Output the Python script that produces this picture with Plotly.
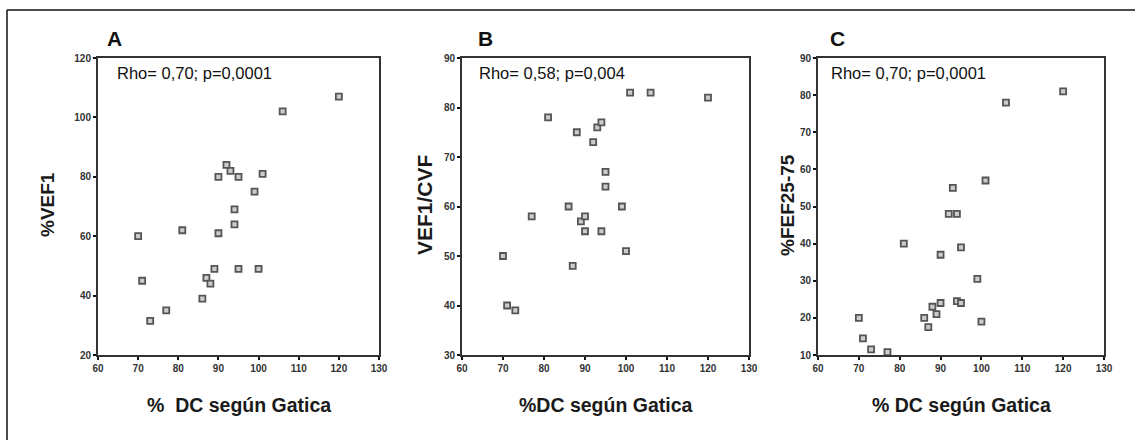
import plotly.graph_objects as go

W, H = 1135, 440

# ---- data ----
panel_labels = ["A", "B", "C"]
x_title_texts = ["%  DC según Gatica", "%DC según Gatica", "% DC según Gatica"]
y_title_texts = ["%VEF1", "VEF1/CVF", "%FEF25-75"]
rho_texts = ["Rho= 0,70; p=0,0001", "Rho= 0,58; p=0,004", "Rho= 0,70; p=0,0001"]

x_a = [70, 71, 73, 77, 81, 86, 87, 88, 89, 90, 90, 92, 93, 94, 94, 95, 95, 99, 100, 101, 106, 120]
y_a = [60, 45, 31.5, 35, 62, 39, 46, 44, 49, 80, 61, 84, 82, 69, 64, 80, 49, 75, 49, 81, 102, 107]

x_b = [70, 71, 73, 77, 81, 86, 87, 88, 89, 90, 90, 92, 93, 94, 94, 95, 95, 99, 100, 101, 106, 120]
y_b = [50, 40, 39, 58, 78, 60, 48, 75, 57, 58, 55, 73, 76, 77, 55, 67, 64, 60, 51, 83, 83, 82]

x_c = [70, 71, 73, 77, 81, 86, 87, 88, 89, 90, 90, 92, 93, 94, 94, 95, 95, 99, 100, 101, 106, 120]
y_c = [20, 14.5, 11.5, 10.8, 40, 20, 17.5, 23, 21, 24, 37, 48, 55, 48, 24.5, 39, 24, 30.5, 19, 57, 78, 81]

x_range = [60, 130]
x_ticks = [60, 70, 80, 90, 100, 110, 120, 130]
y_ranges = [[20, 120], [30, 90], [10, 90]]
y_ticks = [[20, 40, 60, 80, 100, 120],
           [30, 40, 50, 60, 70, 80, 90],
           [10, 20, 30, 40, 50, 60, 70, 80, 90]]

series = [(x_a, y_a), (x_b, y_b), (x_c, y_c)]

# ---- layout geometry (pixels) ----
plot_x = [(98, 379), (462, 749), (818, 1104)]
plot_top, plot_bot = 58, 355
rho_x = [115, 477, 829]
letter_x = [114, 485, 837]
ytitle_x = [48, 425, 788]
ytitle_sizes = [19, 21, 19]

def px(x):
    return x / W

def py(y):
    return 1 - y / H

FONT = "Liberation Sans, Arial, sans-serif"
AXC = "#333333"

fig = go.Figure()
annotations = []
for i, (xs, ys) in enumerate(series):
    n = "" if i == 0 else str(i + 1)
    fig.add_trace(go.Scatter(
        x=xs, y=ys, mode="markers", xaxis="x" + n, yaxis="y" + n,
        marker=dict(symbol="square", size=6, color="#cccccc",
                    line=dict(color="#555555", width=1.8)),
        cliponaxis=False, showlegend=False, hoverinfo="x+y"))
    common = dict(showline=True, linecolor=AXC, linewidth=2, mirror=True,
                  ticks="outside", ticklen=3, tickwidth=2, tickcolor="#111",
                  showgrid=False, zeroline=False, automargin=False,
                  tickfont=dict(family=FONT, size=10, color="#333", weight="bold"))
    fig.update_layout(**{
        "xaxis" + n: dict(domain=[px(plot_x[i][0]), px(plot_x[i][1])],
                          range=x_range, tickvals=x_ticks,
                          anchor="y" + n, **common),
        "yaxis" + n: dict(domain=[py(plot_bot), py(plot_top)],
                          range=y_ranges[i], tickvals=y_ticks[i],
                          anchor="x" + n, **common),
    })
    cx = (plot_x[i][0] + plot_x[i][1]) / 2
    annotations += [
        dict(text=panel_labels[i], x=px(letter_x[i]), y=py(38), xref="paper", yref="paper",
             showarrow=False, xanchor="center", yanchor="middle",
             font=dict(family=FONT, size=21, color="#111", weight="bold")),
        dict(text=rho_texts[i], x=px(rho_x[i]), y=py(73), xref="paper", yref="paper",
             showarrow=False, xanchor="left", yanchor="middle",
             font=dict(family=FONT, size=16.5, color="#111")),
        dict(text=x_title_texts[i], x=px(cx), y=py(405), xref="paper", yref="paper",
             showarrow=False, xanchor="center", yanchor="middle",
             font=dict(family=FONT, size=19.5, color="#1a1a1a", weight="bold")),
        dict(text=y_title_texts[i], x=px(ytitle_x[i]), y=py(205), xref="paper", yref="paper",
             showarrow=False, xanchor="center", yanchor="middle", textangle=-90,
             font=dict(family=FONT, size=ytitle_sizes[i], color="#1a1a1a", weight="bold")),
    ]

shapes = [
    dict(type="line", xref="paper", yref="paper", x0=px(7), x1=1.0, y0=py(10), y1=py(10),
         line=dict(color="#111", width=1.5)),
    dict(type="line", xref="paper", yref="paper", x0=px(7), x1=px(7), y0=py(10), y1=0.0,
         line=dict(color="#111", width=1.5)),
]

fig.update_layout(
    width=W, height=H, margin=dict(l=0, r=0, t=0, b=0, pad=0, autoexpand=False),
    paper_bgcolor="white", plot_bgcolor="white",
    annotations=annotations, shapes=shapes,
)

post = (
    "document.documentElement.style.margin='0';"
    "document.body.style.margin='0';document.body.style.padding='0';"
    "var gd=document.getElementById('{plot_id}');"
    "gd.style.position='absolute';gd.style.left='0px';gd.style.top='0px';"
)
fig.write_html("out.html", post_script=post, config={"displayModeBar": False})
